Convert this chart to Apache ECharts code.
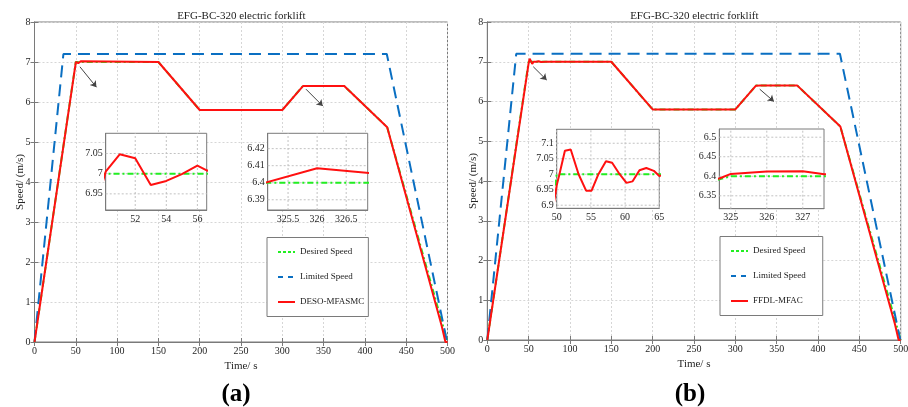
<!DOCTYPE html>
<html><head><meta charset="utf-8">
<script src="https://cdn.jsdelivr.net/npm/echarts@6/dist/echarts.min.js"></script>
<style>html,body{margin:0;padding:0;background:#fff}#c{width:908px;height:407px}</style>
</head><body><div id="c"></div>
<script>
// ---------- data ----------
const titleText = 'EFG-BC-320 electric forklift';
const captions = ['(a)', '(b)'];
const xName = 'Time/ s';
const yName = 'Speed/ (m/s)';
const legendA = ['Desired Speed', 'Limited Speed', 'DESO-MFASMC'];
const legendB = ['Desired Speed', 'Limited Speed', 'FFDL-MFAC'];

const mainX = [0, 500, 50];   // min, max, interval
const mainY = [0, 8, 1];

const limitedSpeed = [[0, 0], [35, 7.2], [426.5, 7.2], [499.5, 0]];
const desiredSpeed = [[0, 0], [50, 7], [150, 7], [200, 5.8], [300, 5.8], [325, 6.4], [375, 6.4], [427, 5.37], [500, 0]];
const desoSpeed = [[0, 0], [50.1, 7.005], [51, 7.048], [52, 7.038], [53, 6.972], [54, 6.982], [55, 6.999], [56, 7.02], [56.6, 7.008], [58, 7.0],
  [150, 7.0], [200, 5.8], [300, 5.8], [325, 6.399], [326, 6.4085], [327, 6.4053], [330, 6.401], [375, 6.4], [427, 5.37], [493, 0.4], [497.5, 0], [500, 0]];
const ffdlSpeed = [[0, 0], [50, 6.964], [50.4, 7.0], [51.2, 7.076], [52.05, 7.08], [53.2, 7.0], [54.3, 6.947], [55.1, 6.947], [56.1, 7.0], [57.2, 7.042],
  [58.1, 7.037], [59.2, 7.0], [60.2, 6.972], [61.1, 6.977], [62.1, 7.013], [63.1, 7.02], [64.2, 7.011], [65, 6.994], [67, 7.008], [70, 6.997], [75, 7.0],
  [150, 7.0], [200, 5.8], [300, 5.8], [324.7, 6.395], [325, 6.406], [326, 6.412], [327, 6.413], [327.6, 6.405], [330, 6.402], [375, 6.4], [427, 5.37], [493, 0.4], [497.5, 0], [500, 0]];

// insets: axis ranges and tick values
const insetA1X = [50.1, 56.6], insetA1XTicks = [52, 54, 56];
const insetA1Y = [6.91, 7.1], insetA1YTicks = [6.95, 7, 7.05];
const insetA2X = [325.15, 326.87], insetA2XTicks = [325.5, 326, 326.5];
const insetA2Y = [6.384, 6.429], insetA2YTicks = [6.39, 6.4, 6.41, 6.42];
const insetB1X = [50, 65], insetB1XTicks = [50, 55, 60, 65];
const insetB1Y = [6.89, 7.145], insetB1YTicks = [6.9, 6.95, 7, 7.05, 7.1];
const insetB2X = [324.68, 327.59], insetB2XTicks = [325, 326, 327];
const insetB2Y = [6.317, 6.521], insetB2YTicks = [6.35, 6.4, 6.45, 6.5];

// annotation arrows (data coords: start, end)
const arrowsA = [[[55, 6.88], [75, 6.37]], [[328.7, 6.32], [349, 5.9]]];
const arrowsB = [[[55.6, 6.875], [71.8, 6.54]], [[329.5, 6.31], [346.7, 6.0]]];

// ---------- styles ----------
const FONT = 'Liberation Serif';
const BORDER = '#7a7a7a';
const GRIDC = '#d6d6d6';
const INSET_GRIDC = '#c2c2c2';
const RED = '#ff1010', BLUE = '#0a6fc2', GREEN = '#22ee22';

const grids = [
  {left: 34.5, top: 22, width: 413, height: 320, z: 0},
  {left: 487.3, top: 22, width: 413.4, height: 318, z: 0},
  {left: 105.7, top: 133.3, width: 101, height: 76.7, z: 5},
  {left: 267.7, top: 133.3, width: 100, height: 76.7, z: 5},
  {left: 556.7, top: 129.3, width: 102.6, height: 79, z: 5},
  {left: 719.3, top: 129, width: 104.7, height: 79.7, z: 5}
].map(g => Object.assign({show: true, borderColor: BORDER, borderWidth: 1,
  backgroundColor: g.z ? '#fff' : 'transparent', containLabel: false, outerBoundsMode: 'none'}, g));

const labelStyle = {fontFamily: FONT, fontSize: 10, color: '#262626'};
const splitStyle = {show: true, lineStyle: {color: GRIDC, type: [2, 2], width: 1}};

function mainXAxis(gi, pos) {
  const top = pos === 'top';
  return {type: 'value', gridIndex: gi, position: pos, min: mainX[0], max: mainX[1], interval: mainX[2], z: 1,
    name: top ? '' : xName, nameLocation: 'middle', nameGap: 19, nameMoveOverlap: false,
    nameTextStyle: {fontFamily: FONT, fontSize: 11, color: '#262626'},
    axisLine: {show: true, lineStyle: {color: BORDER}},
    axisTick: {show: true, inside: true, length: 4, lineStyle: {color: BORDER}},
    axisLabel: Object.assign({show: !top, margin: 4}, labelStyle),
    splitLine: top ? {show: false} : splitStyle};
}
function mainYAxis(gi, pos) {
  const right = pos === 'right';
  return {type: 'value', gridIndex: gi, position: pos, min: mainY[0], max: mainY[1], interval: mainY[2], z: 1,
    name: right ? '' : yName, nameLocation: 'middle', nameGap: 9, nameRotate: 90, nameMoveOverlap: false,
    nameTextStyle: {fontFamily: FONT, fontSize: 11, color: '#262626'},
    axisLine: {show: true, lineStyle: {color: BORDER}},
    axisTick: {show: true, inside: true, length: 4, lineStyle: {color: BORDER}},
    axisLabel: Object.assign({show: !right, margin: 4}, labelStyle),
    splitLine: right ? {show: false} : splitStyle};
}
function insetAxis(gi, range, ticks, isX) {
  return {type: 'value', gridIndex: gi, min: range[0], max: range[1], z: 6,
    axisLine: {show: true, lineStyle: {color: BORDER}},
    axisTick: {show: false, customValues: ticks},
    axisLabel: Object.assign({show: true, margin: isX ? 4 : 3, customValues: ticks}, labelStyle),
    splitLine: {show: false}};
}

const xAxes = [mainXAxis(0, 'bottom'), mainXAxis(1, 'bottom'),
  insetAxis(2, insetA1X, insetA1XTicks, true), insetAxis(3, insetA2X, insetA2XTicks, true),
  insetAxis(4, insetB1X, insetB1XTicks, true), insetAxis(5, insetB2X, insetB2XTicks, true),
  mainXAxis(0, 'top'), mainXAxis(1, 'top')];
const yAxes = [mainYAxis(0, 'left'), mainYAxis(1, 'left'),
  insetAxis(2, insetA1Y, insetA1YTicks, false), insetAxis(3, insetA2Y, insetA2YTicks, false),
  insetAxis(4, insetB1Y, insetB1YTicks, false), insetAxis(5, insetB2Y, insetB2YTicks, false),
  mainYAxis(0, 'right'), mainYAxis(1, 'right')];

function lineSeries(name, data, ax, color, type, z) {
  return {type: 'line', name, data, xAxisIndex: ax, yAxisIndex: ax, symbol: 'none', showSymbol: false,
    animation: false, z, clip: true, lineStyle: {color, width: 2, type}, itemStyle: {color}};
}
const DASH = [12, 7], DASHDOT = [6, 3, 2, 3];
const series = [];
[[0, desoSpeed, legendA[2]], [1, ffdlSpeed, legendB[2]]].forEach(([ax, d, nm]) => {
  series.push(lineSeries('Desired Speed', desiredSpeed, ax, GREEN, DASHDOT, 2));
  series.push(lineSeries('Limited Speed', limitedSpeed, ax, BLUE, DASH, 2));
  series.push(lineSeries(nm, d, ax, RED, 'solid', 3));
});
// inset grid lines at the tick values, built from the tick arrays and axis ranges
[[2, insetA1X, insetA1Y, insetA1XTicks, insetA1YTicks], [3, insetA2X, insetA2Y, insetA2XTicks, insetA2YTicks],
 [4, insetB1X, insetB1Y, insetB1XTicks, insetB1YTicks], [5, insetB2X, insetB2Y, insetB2XTicks, insetB2YTicks]].forEach(([ax, xr, yr, xt, yt]) => {
  const segs = xt.map(v => [[v, yr[0]], [v, yr[1]]]).concat(yt.map(v => [[xr[0], v], [xr[1], v]]));
  segs.forEach(seg => {
    series.push({type: 'line', xAxisIndex: ax, yAxisIndex: ax, data: seg, z: 6.5, animation: false, silent: true,
      symbol: 'none', showSymbol: false, clip: false,
      lineStyle: {color: INSET_GRIDC, type: [2, 2], width: 1}, itemStyle: {color: INSET_GRIDC}});
  });
});
[[2, desoSpeed, legendA[2]], [3, desoSpeed, legendA[2]], [4, ffdlSpeed, legendB[2]], [5, ffdlSpeed, legendB[2]]].forEach(([ax, d, nm]) => {
  series.push(lineSeries('Desired Speed', desiredSpeed, ax, GREEN, DASHDOT, 7));
  series.push(lineSeries(nm, d, ax, RED, 'solid', 8));
});
[[0, arrowsA], [1, arrowsB]].forEach(([ax, arr]) => {
  series.push({type: 'lines', coordinateSystem: 'cartesian2d', xAxisIndex: ax, yAxisIndex: ax, z: 4, animation: false,
    symbol: ['none', 'arrow'], symbolSize: 6,
    lineStyle: {color: '#444', width: 1, opacity: 1},
    data: arr.map(a => ({coords: a}))});
});

const legendLook = {
  'Desired Speed': {color: GREEN, type: [3, 2]},
  'Limited Speed': {color: BLUE, type: [5, 5]},
  'DESO-MFASMC': {color: RED, type: 'solid'},
  'FFDL-MFAC': {color: RED, type: 'solid'}
};
function legend(left, top, names, padR) {
  return {show: true, orient: 'vertical', left, top, z: 10,
    data: names.map(n => ({name: n, itemStyle: {opacity: 0},
      lineStyle: {color: legendLook[n].color, type: legendLook[n].type, width: 2}})),
    itemWidth: 17, itemHeight: 10, itemGap: 16, padding: [10, padR, 10, 10],
    borderColor: BORDER, borderWidth: 1, backgroundColor: '#fff', borderRadius: 0,
    textStyle: {fontFamily: FONT, fontSize: 9, color: '#222'}, selectedMode: false};
}

const option = {
  animation: false,
  backgroundColor: '#fff',
  grid: grids,
  xAxis: xAxes,
  yAxis: yAxes,
  legend: [legend(267, 237.5, legendA, 4), legend(720, 236.5, legendB, 17)],
  series,
  graphic: [
    {type: 'text', x: 241.3, y: 16.5, z: 20, style: {text: titleText, fontFamily: FONT, fontSize: 11, fill: '#222', align: 'center', verticalAlign: 'middle'}},
    {type: 'text', x: 694.3, y: 15.7, z: 20, style: {text: titleText, fontFamily: FONT, fontSize: 11, fill: '#222', align: 'center', verticalAlign: 'middle'}},
    {type: 'text', x: 236, y: 395, z: 20, style: {text: captions[0], fontFamily: FONT, fontSize: 25, fontWeight: 'bold', fill: '#000', align: 'center', verticalAlign: 'middle'}},
    {type: 'text', x: 690, y: 395, z: 20, style: {text: captions[1], fontFamily: FONT, fontSize: 25, fontWeight: 'bold', fill: '#000', align: 'center', verticalAlign: 'middle'}}
  ]
};
const chart = echarts.init(document.getElementById('c'), null, {renderer: 'canvas'});
chart.setOption(option);
</script></body></html>
